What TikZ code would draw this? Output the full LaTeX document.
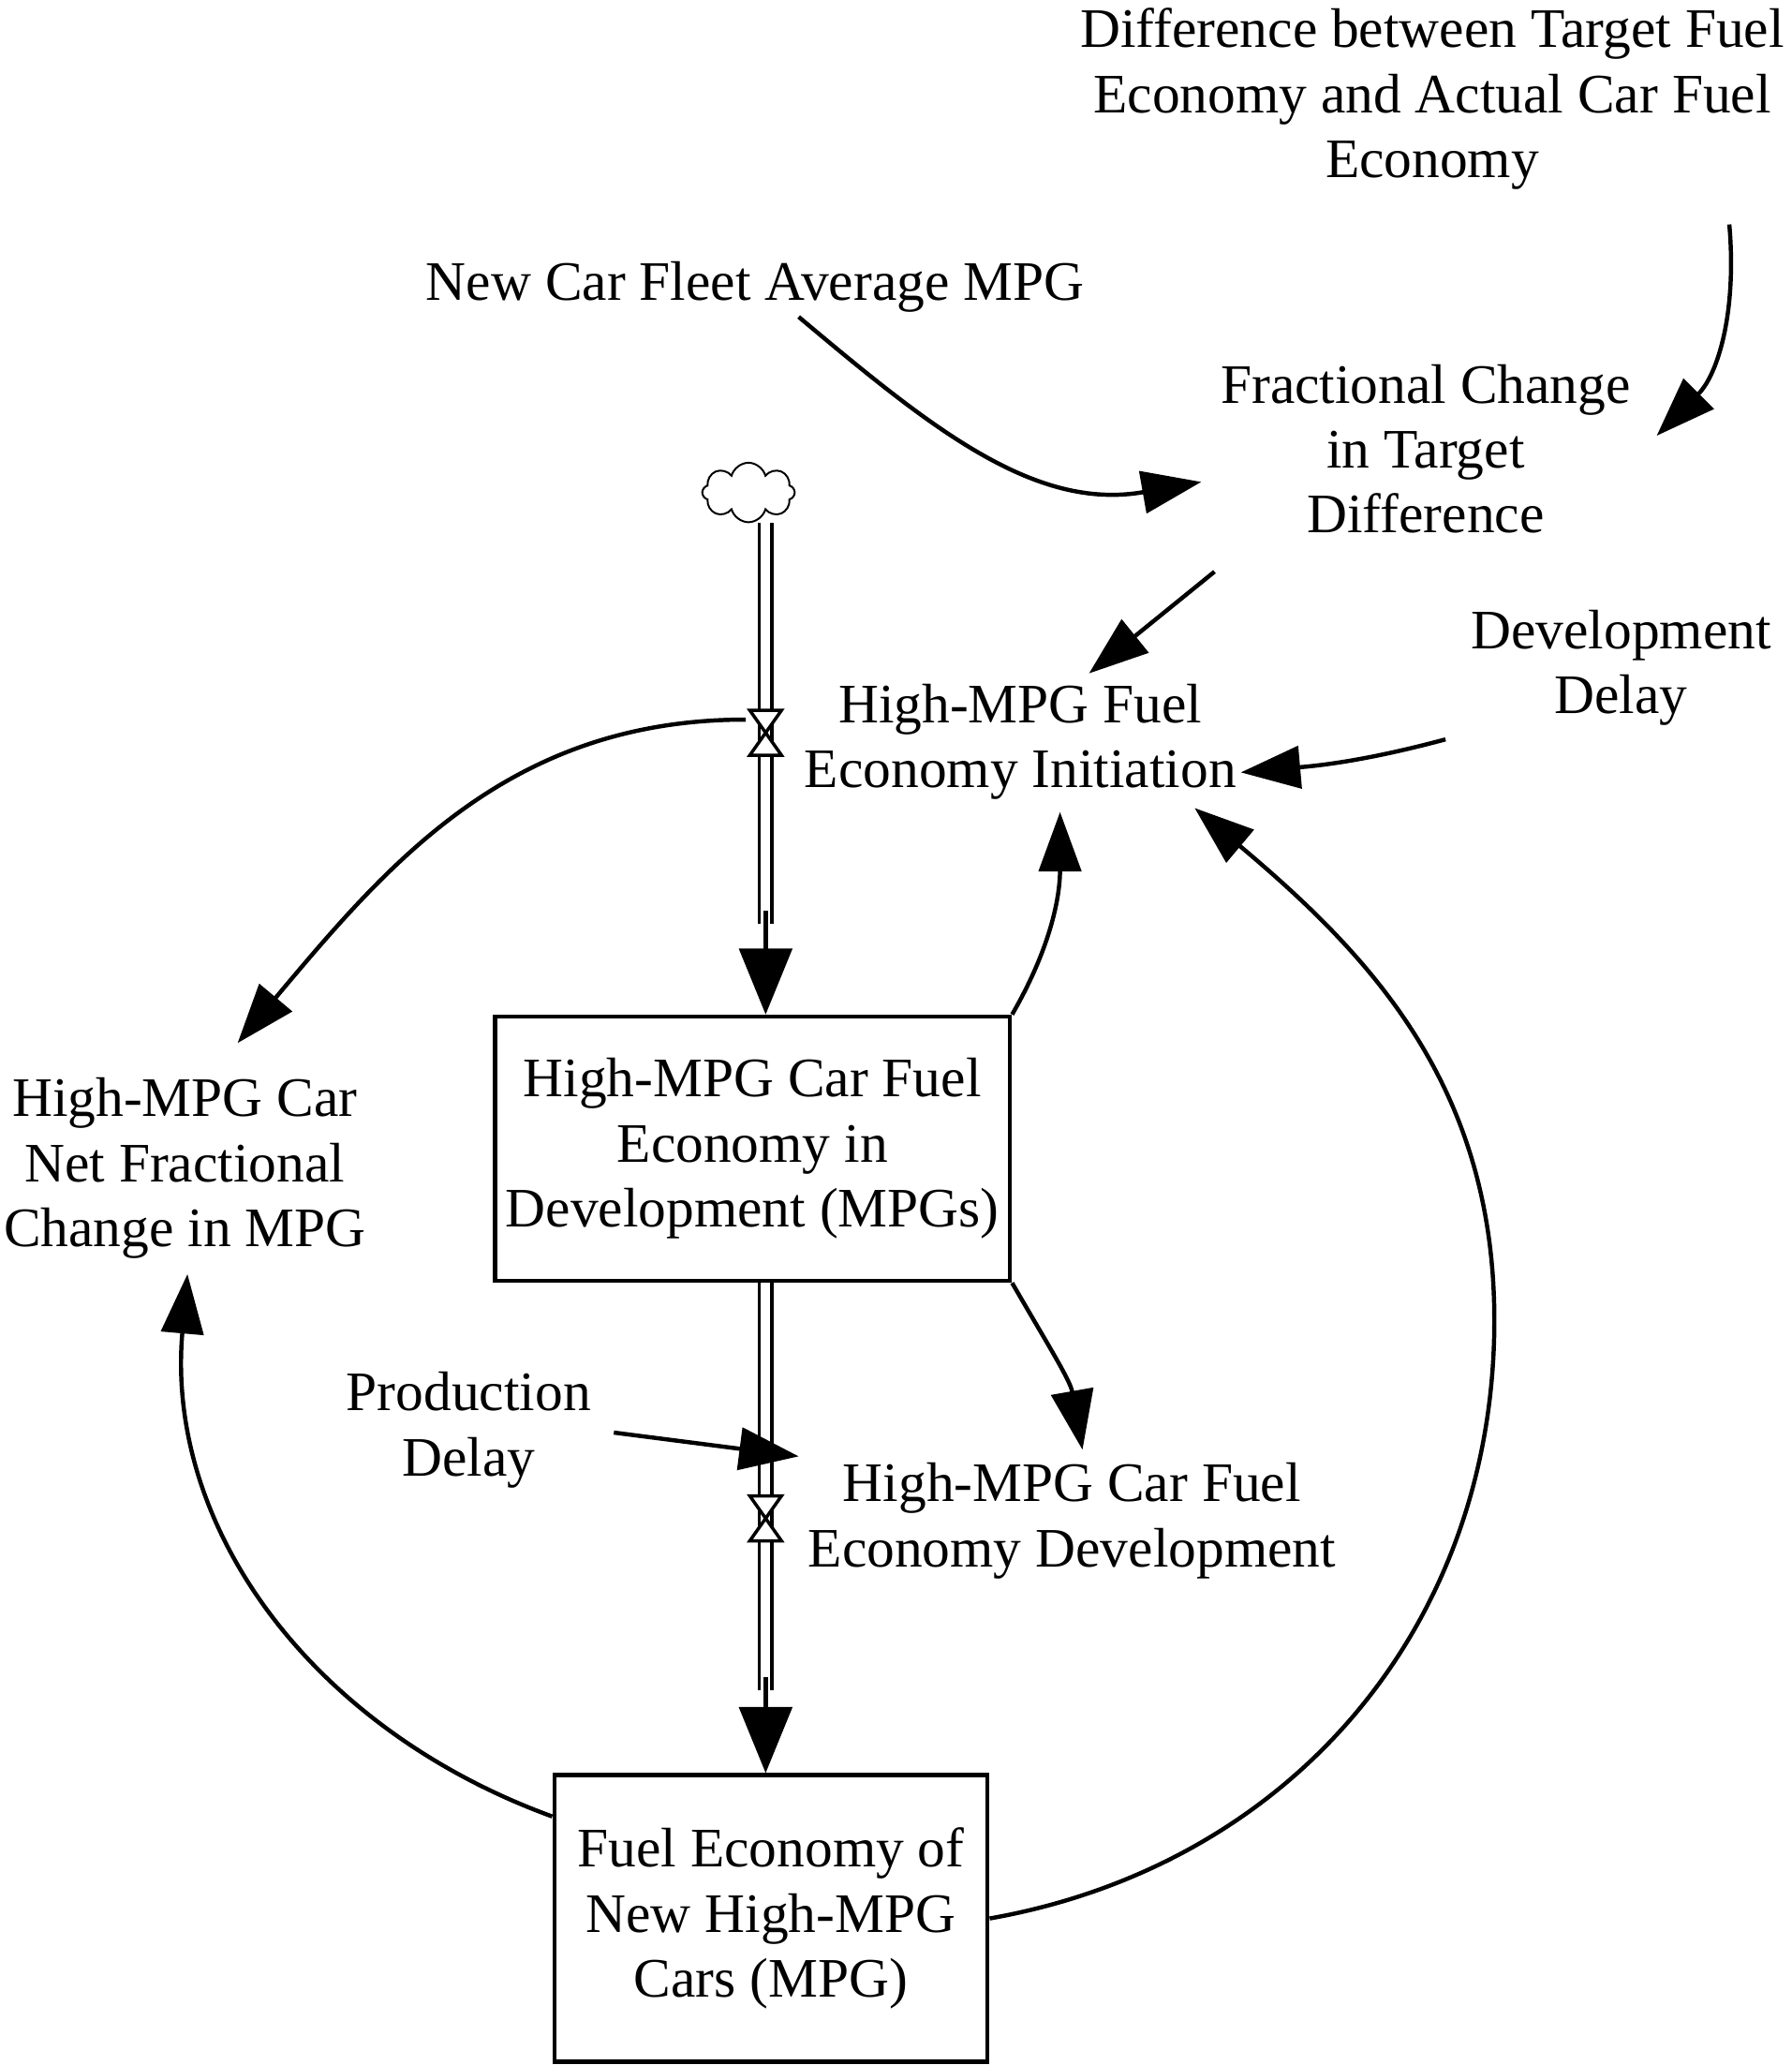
\documentclass[tikz,border=0pt]{standalone}
\usepackage{fontspec}
\setmainfont{Liberation Serif}
\usetikzlibrary{arrows.meta,positioning,shapes.symbols}
\tikzset
    {
        lbl/.style = {align=center, font=\fontsize{12}{14}\selectfont, inner sep=1pt},
        stock/.style = {draw=black, line width=0.9pt, minimum width=3.9cm, minimum height=2cm, lbl},
        link/.style = {-{Triangle[length=0.45cm,width=0.32cm]}, line width=0.9pt},
        flow/.style = {-{Triangle[length=0.5cm,width=0.4cm]}, line width=0.9pt},
        pipe/.style = {double, double distance=0.07cm, line width=0.7pt}
    }
\begin{document}
\begin{tikzpicture}[x=0.01cm, y=-0.01cm]
    \useasboundingbox (0,0) rectangle (1357,1564);
    % variables
    \node [lbl] (diff) at (1085,75) {Difference between Target Fuel\\Economy and Actual Car Fuel\\Economy};
    \node [lbl] (fleet) at (572,217) {New Car Fleet Average MPG};
    \node [lbl] (frac) at (1080,340) {Fractional Change\\in Target\\Difference};
    \node [lbl] (init) at (773,562) {High-MPG Fuel\\Economy Initiation};
    \node [lbl] (devdelay) at (1228,506) {Development\\Delay};
    \node [lbl] (net) at (140,885) {High-MPG Car\\Net Fractional\\Change in MPG};
    \node [lbl] (proddelay) at (355,1083) {Production\\Delay};
    \node [lbl] (dev) at (812,1152) {High-MPG Car Fuel\\Economy Development};
    % stocks
    \node [stock] (inprog) at (570,870) {High-MPG Car Fuel\\Economy in\\Development (MPGs)};
    \node [stock, minimum width=3.28cm, minimum height=2.17cm] (cars) at (584,1453) {Fuel Economy of\\New High-MPG\\Cars (MPG)};
    % source cloud and valves
    \node [cloud, draw, cloud puffs=8, minimum width=0.7cm, minimum height=0.45cm, inner sep=0pt] (src) at (567,373) {};
    \coordinate (v1) at (580,555);
    \coordinate (v2) at (580,1150);
    \draw [pipe] (580,396) -- (580,700);
    \draw [pipe] (inprog.south -| v2) -- (580,1280);
    \foreach \v in {v1,v2}
        \draw [line width=0.7pt, fill=white] ([shift={(-12,-17)}]\v) -- ([shift={(12,17)}]\v) -- ([shift={(-12,17)}]\v) -- ([shift={(12,-17)}]\v) -- cycle;
    \draw [flow] (580,690) -- (inprog.north -| v1);
    \draw [flow] (580,1270) -- (cars.north -| v2);
    % links
    \draw [link] (1310,170) to [out=-85, in=45] (1255,330);
    \draw [link] (605,240) to [out=-40, in=190] (910,365);
    \draw [link] (920,433) -- (825,510);
    \draw [link] (1095,560) to [out=195, in=5] (940,585);
    \draw [link] (inprog.north east) to [out=60, in=-90] (803,615);
    \draw [link] (cars.east) to [out=10, in=-90] (1132,1000) to [out=90, in=-40] (905,612);
    \draw [link] (565,545) to [out=180, in=50] (180,790);
    \draw [link] (cars.155) to [out=160, in=-95] (142,965);
    \draw [link] (inprog.south east) to [out=-60, in=100] (820,1098);
    \draw [link] (465,1085) -- (605,1103);
\end{tikzpicture}
\end{document}
